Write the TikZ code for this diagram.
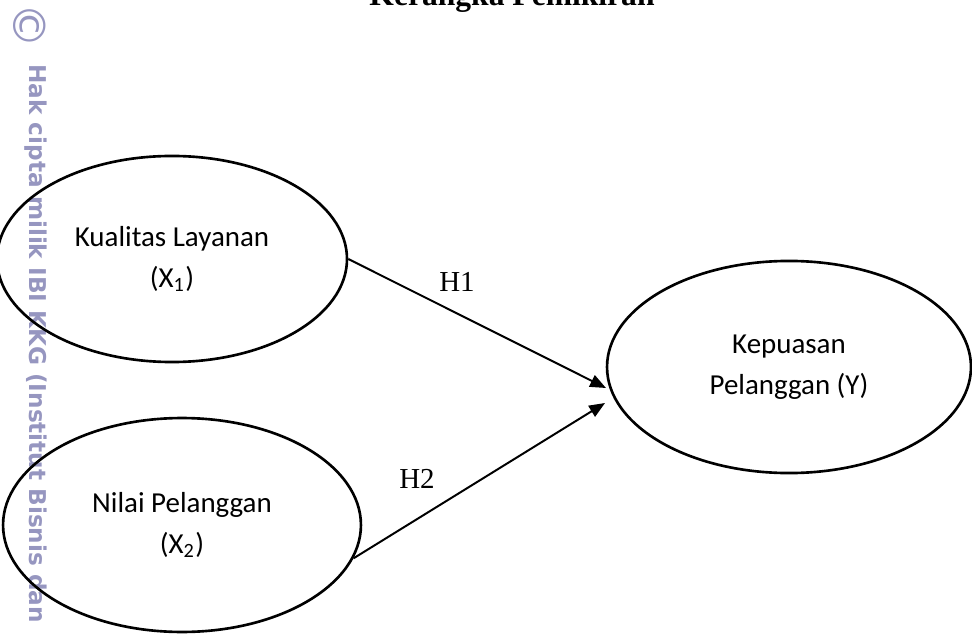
\documentclass[tikz,border=0pt]{standalone}
\usepackage{fontspec}
\setmainfont{Liberation Serif}
\newfontfamily\bodyfont{Carlito}
\newfontfamily\markfont{DejaVu Sans}
\usetikzlibrary{arrows.meta,shapes.geometric,positioning}
\definecolor{markgray}{RGB}{150,150,192}

\begin{document}
\begin{tikzpicture}[
    x=0.38pt, y=-0.38pt,
    every node/.style={inner sep=0pt},
    var/.style={ellipse, draw, line width=1pt, font=\bodyfont\fontsize{11}{15.5}\selectfont, align=center},
    link/.style={line width=0.75pt, -{Triangle[length=6pt, width=4.8pt]}},
    hyp/.style={font=\fontsize{11}{13}\selectfont},
]
\useasboundingbox (0,0) rectangle (972,634);

% Watermark
\node[text=markgray, font=\markfont\fontsize{17}{17}\selectfont, rotate=-90] (copy) at (30,26) {©};
\node[text=markgray, font=\markfont\bfseries\fontsize{8.8}{10}\selectfont, rotate=-90, anchor=west] (mark) at (36,64) {Hak cipta milik IBI KKG (Institut Bisnis dan};

% Title
\node[font=\bfseries\fontsize{12}{14}\selectfont, anchor=base] (title) at (512,6) {Kerangka Pemikiran};

% Variables
\node[var, minimum width=133pt, minimum height=78.3pt] (kual) at (172,259) {Kualitas Layanan\\(X\textsubscript{1})};
\node[var, minimum width=136pt, minimum height=81.3pt] (nilai) at (182,525) {Nilai Pelanggan\\(X\textsubscript{2})};
\node[var, minimum width=138.3pt, minimum height=80.6pt] (kep) at (789,367) {Kepuasan\\Pelanggan (Y)};

% Hypotheses
\coordinate (h1end) at (606,388);
\coordinate (h2end) at (605,403);
\draw[link] (kual.east) -- (h1end);
\draw[link] (nilai.-11) -- (h2end);
\node[hyp] (h1) at (457,282) {H1};
\node[hyp] (h2) at (417,479) {H2};
\end{tikzpicture}
\end{document}
